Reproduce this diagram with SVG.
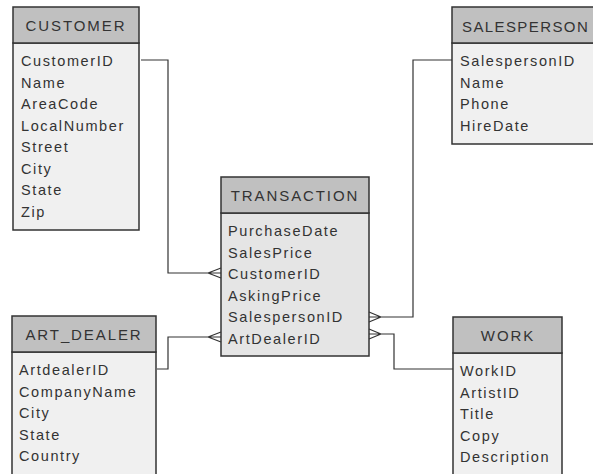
<svg xmlns="http://www.w3.org/2000/svg" width="593" height="474" viewBox="0 0 593 474">
<style>
.hdr{fill:#c0c0c0;stroke:#333;stroke-width:1.5}
.body{fill:#f0f0f0;stroke:#333;stroke-width:1.5}
.body2{fill:#e5e5e5;stroke:#333;stroke-width:1.5}
.t{font-family:"Liberation Sans",Arial,sans-serif;fill:#333}
.h{font-size:15px;letter-spacing:1.9px}
.a{font-size:14.5px;letter-spacing:1.6px}
.c{fill:none;stroke:#333;stroke-width:1.2}
</style>
<rect width="593" height="474" fill="#fff"/>
<g id="customer">
<rect class="body" x="13" y="43" width="126" height="187"/>
<rect class="hdr" x="13" y="7" width="126" height="36"/>
<text class="t h" x="76" y="31" text-anchor="middle">CUSTOMER</text>
<text class="t a" x="21" y="66">CustomerID</text>
<text class="t a" x="21" y="87.5">Name</text>
<text class="t a" x="21" y="109">AreaCode</text>
<text class="t a" x="21" y="130.5">LocalNumber</text>
<text class="t a" x="21" y="152">Street</text>
<text class="t a" x="21" y="173.5">City</text>
<text class="t a" x="21" y="195">State</text>
<text class="t a" x="21" y="216.5">Zip</text>
</g>
<g id="salesperson">
<rect class="body" x="452" y="43" width="160" height="101"/>
<rect class="hdr" x="452" y="7" width="160" height="36"/>
<text class="t h" x="462" y="31.5" style="letter-spacing:1.4px">SALESPERSON</text>
<text class="t a" x="460" y="66">SalespersonID</text>
<text class="t a" x="460" y="87.5">Name</text>
<text class="t a" x="460" y="109">Phone</text>
<text class="t a" x="460" y="130.5">HireDate</text>
</g>
<g id="transaction">
<rect class="body2" x="221" y="213" width="148" height="143"/>
<rect class="hdr" x="221" y="177" width="148" height="36"/>
<text class="t h" x="295" y="201" text-anchor="middle">TRANSACTION</text>
<text class="t a" x="228" y="236">PurchaseDate</text>
<text class="t a" x="228" y="257.5">SalesPrice</text>
<text class="t a" x="228" y="279">CustomerID</text>
<text class="t a" x="228" y="300.5">AskingPrice</text>
<text class="t a" x="228" y="322">SalespersonID</text>
<text class="t a" x="228" y="343.5">ArtDealerID</text>
</g>
<g id="art_dealer">
<rect class="body" x="12" y="352" width="144" height="130"/>
<rect class="hdr" x="12" y="316" width="144" height="36"/>
<text class="t h" x="84" y="339.5" text-anchor="middle">ART_DEALER</text>
<text class="t a" x="19" y="375">ArtdealerID</text>
<text class="t a" x="19" y="396.5">CompanyName</text>
<text class="t a" x="19" y="418">City</text>
<text class="t a" x="19" y="439.5">State</text>
<text class="t a" x="19" y="461">Country</text>
</g>
<g id="work">
<rect class="body" x="453" y="353" width="109" height="130"/>
<rect class="hdr" x="453" y="317" width="109" height="36"/>
<text class="t h" x="508" y="341" text-anchor="middle">WORK</text>
<text class="t a" x="460" y="376">WorkID</text>
<text class="t a" x="460" y="397.5">ArtistID</text>
<text class="t a" x="460" y="419">Title</text>
<text class="t a" x="460" y="440.5">Copy</text>
<text class="t a" x="460" y="462">Description</text>
</g>
<g id="connectors">
<path class="c" d="M141 60 H168 V273 H221 M208 273 L221 268 M208 273 L221 278"/>
<path class="c" d="M157 369 H168 V337 H221 M208 337 L221 332 M208 337 L221 342"/>
<path class="c" d="M452 60 H413 V317 H369 M381 317 L369 312 M381 317 L369 322"/>
<path class="c" d="M453 369 H394 V334 H369 M381 334 L369 329 M381 334 L369 339"/>
</g>
</svg>
